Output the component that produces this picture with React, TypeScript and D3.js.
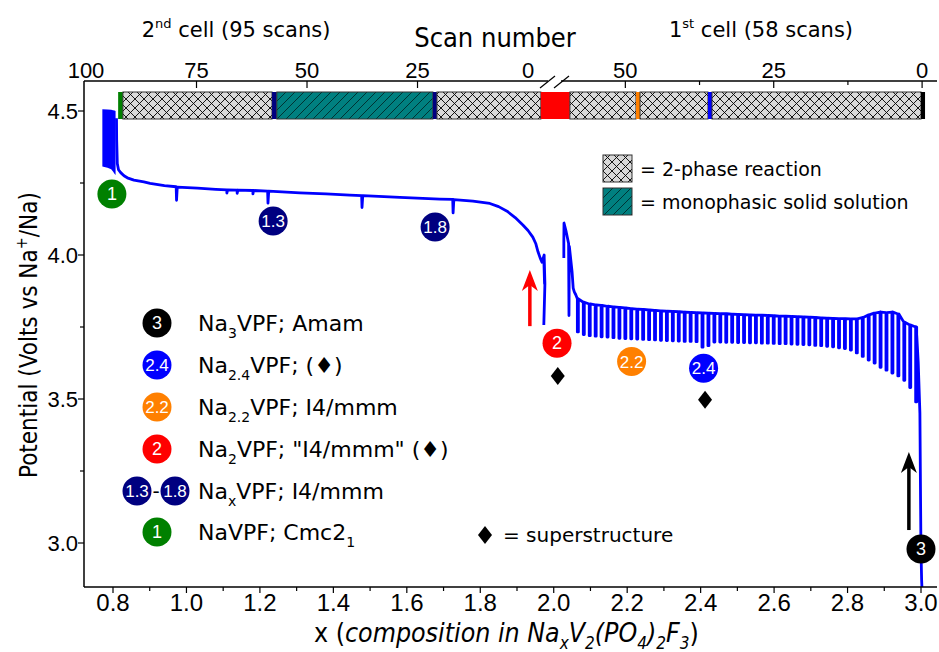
import React from 'react';
import * as d3 from 'd3';

const W = 939;
const H = 652;
const FONT = "'DejaVu Sans', 'Liberation Sans', sans-serif";
const CONDFONT = "'DejaVu Sans Condensed', 'DejaVu Sans', sans-serif";
const NUMFONT = "'Liberation Sans', 'Arimo', sans-serif";

// ---------- axes ----------
const xTicks = [0.8, 1.0, 1.2, 1.4, 1.6, 1.8, 2.0, 2.2, 2.4, 2.6, 2.8, 3.0];
const xMinorTicks = [0.9, 1.1, 1.3, 1.5, 1.7, 1.9, 2.1, 2.3, 2.5, 2.7, 2.9];
const yTicks = [3.0, 3.5, 4.0, 4.5];
const yMinorTicks = [3.25, 3.75, 4.25];
const topTicksCell2 = [100, 75, 50, 25, 0];
const topMajorCell2 = [75, 50, 25];
const topTicksCell1 = [50, 25, 0];
const topMinorCell1 = [37.5, 12.5];

// ---------- electrochemical curve ----------
// constant-voltage hold at the end of the 2nd cell: [x, top V, bottom V]
const holdEnvelope: [number, number, number][] = [
  [0.771, 4.506, 4.307],
  [0.785, 4.505, 4.303],
  [0.795, 4.504, 4.298],
  [0.800, 4.503, 4.290],
  [0.804, 4.502, 4.282],
  [0.807, 4.500, 4.278],
];

// 2nd cell (x, V) incl. relaxation spikes
const cell2Curve: [number, number][] = [
  [0.8095, 4.475], [0.8100, 4.40], [0.8117, 4.318], [0.815, 4.296], [0.821, 4.286],
  [0.830, 4.275], [0.839, 4.268], [0.857, 4.260], [0.884, 4.254], [0.901, 4.249],
  [0.940, 4.241], [0.972, 4.237], [0.973, 4.190], [0.975, 4.236], [1.030, 4.232],
  [1.080, 4.228], [1.110, 4.226], [1.110, 4.215], [1.112, 4.226], [1.138, 4.225],
  [1.138, 4.214], [1.140, 4.225], [1.181, 4.224], [1.181, 4.212], [1.183, 4.224],
  [1.221, 4.222], [1.222, 4.180], [1.224, 4.222], [1.309, 4.216], [1.380, 4.212],
  [1.445, 4.208], [1.477, 4.206], [1.478, 4.165], [1.480, 4.206], [1.581, 4.200],
  [1.690, 4.194], [1.725, 4.193], [1.726, 4.146], [1.728, 4.192], [1.780, 4.187],
  [1.826, 4.179], [1.850, 4.168], [1.873, 4.152], [1.895, 4.130], [1.916, 4.104],
  [1.930, 4.085], [1.943, 4.062], [1.951, 4.040], [1.957, 4.012], [1.963, 3.990],
  [1.968, 3.975], [1.974, 4.000], [1.975, 3.900], [1.973, 3.990], [1.975, 3.920],
  [1.974, 3.995], [1.976, 3.900], [1.973, 3.757],
];

// 1st cell: start of charge (x, V)
const cell1Start: [number, number][] = [
  [3.0025, 2.847], [3.0017, 2.872], [2.9998, 2.986], [2.997, 3.451],
  [2.9925, 3.625], [2.9885, 3.720], [2.9854, 3.751],
];
// per scan (1..58): voltage before relaxation and at the relaxation minimum
const cell1Plateau = [
  3.750, 3.757, 3.767, 3.795, 3.802, 3.800, 3.802, 3.798, 3.792, 3.783,
  3.778, 3.778, 3.779, 3.779, 3.780, 3.781, 3.782, 3.783, 3.784, 3.785,
  3.786, 3.787, 3.788, 3.788, 3.789, 3.790, 3.791, 3.791, 3.792, 3.793,
  3.794, 3.795, 3.796, 3.796, 3.797, 3.798, 3.799, 3.800, 3.801, 3.802,
  3.803, 3.804, 3.805, 3.806, 3.808, 3.809, 3.811, 3.812, 3.814, 3.816,
  3.818, 3.820, 3.822, 3.825, 3.827, 3.830, 3.836, 3.848,
];
const cell1Relaxed = [
  3.490, 3.540, 3.565, 3.580, 3.590, 3.600, 3.610, 3.625, 3.635, 3.648,
  3.660, 3.670, 3.675, 3.678, 3.681, 3.683, 3.685, 3.686, 3.688, 3.689,
  3.690, 3.691, 3.692, 3.692, 3.693, 3.694, 3.694, 3.695, 3.695, 3.696,
  3.696, 3.697, 3.697, 3.698, 3.698, 3.685, 3.680, 3.699, 3.700, 3.700,
  3.701, 3.702, 3.703, 3.704, 3.705, 3.706, 3.707, 3.708, 3.709, 3.710,
  3.711, 3.713, 3.715, 3.716, 3.718, 3.720, 3.724, 3.733,
];
// 1st cell: end of measurement (x, V)
const cell1Tail: [number, number][] = [
  [2.060, 3.862], [2.056, 3.872], [2.053, 3.885], [2.050, 3.941], [2.0425, 4.030],
  [2.0415, 3.790], [2.0405, 4.040], [2.034, 4.080], [2.028, 4.111], [2.0275, 4.050],
  [2.0275, 3.990],
];

// ---------- top bar: phase regions along x ----------
const barSegments: { from: number; to: number; kind: string }[] = [
  { from: 0.814, to: 0.827, kind: '#008000' },
  { from: 0.827, to: 1.233, kind: 'cross' },
  { from: 1.233, to: 1.246, kind: '#000080' },
  { from: 1.246, to: 1.671, kind: 'teal' },
  { from: 1.671, to: 1.682, kind: '#000080' },
  { from: 1.682, to: 1.965, kind: 'cross' },
  { from: 1.965, to: 2.044, kind: '#ff0000' },
  { from: 2.044, to: 2.224, kind: 'cross' },
  { from: 2.224, to: 2.235, kind: '#ff8000' },
  { from: 2.235, to: 2.420, kind: 'cross' },
  { from: 2.420, to: 2.431, kind: '#0000ff' },
  { from: 2.431, to: 3.000, kind: 'cross' },
  { from: 3.000, to: 3.011, kind: '#000000' },
];

// ---------- annotations ----------
const phaseMarkers = [
  { x: 0.797, v: 4.212, label: '1', color: '#008000' },
  { x: 1.236, v: 4.118, label: '1.3', color: '#000080' },
  { x: 1.677, v: 4.097, label: '1.8', color: '#000080' },
  { x: 2.009, v: 3.694, label: '2', color: '#ff0000' },
  { x: 2.212, v: 3.630, label: '2.2', color: '#ff8000' },
  { x: 2.408, v: 3.607, label: '2.4', color: '#0000ff' },
  { x: 3.000, v: 2.979, label: '3', color: '#000000' },
];
const superstructure = [
  { x: 2.011, v: 3.580 },
  { x: 2.412, v: 3.497 },
];
const arrows = [
  { x: 1.935, v0: 3.753, v1: 3.948, color: '#ff0000' },
  { x: 2.967, v0: 3.045, v1: 3.316, color: '#000000' },
];

const legendRows = [
  { circles: [{ label: '3', color: '#000000' }], parts: [['Na', ''], ['3', 'sub'], ['VPF; Amam', '']] },
  { circles: [{ label: '2.4', color: '#0000ff' }], parts: [['Na', ''], ['2.4', 'sub'], ['VPF; (\u2666)', '']] },
  { circles: [{ label: '2.2', color: '#ff8000' }], parts: [['Na', ''], ['2.2', 'sub'], ['VPF; I4/mmm', '']] },
  { circles: [{ label: '2', color: '#ff0000' }], parts: [['Na', ''], ['2', 'sub'], ['VPF; "I4/mmm" (\u2666)', '']] },
  { circles: [{ label: '1.3', color: '#000080' }, { label: '1.8', color: '#000080' }], parts: [['Na', ''], ['x', 'sub'], ['VPF; I4/mmm', '']] },
  { circles: [{ label: '1', color: '#008000' }], parts: [['NaVPF; Cmc2', ''], ['1', 'sub']] },
];

// ---------- scales ----------
const X0 = 84, X1 = 937, Y0 = 81, Y1 = 587;
const xScale = d3.scaleLinear().domain([0.8, 3.0]).range([113, 921]);
const yScale = d3.scaleLinear().domain([3.0, 4.5]).range([543, 111]);
// scan number -> composition (top axes)
const scan2 = d3.scaleLinear().domain([100, 0]).range([0.7265, 1.930]);
const scan1 = d3.scaleLinear().domain([0, 50]).range([3.003, 2.195]);
const HALF = 0.0014; // half width of a relaxation spike (in x units)

function buildCell1(): [number, number][] {
  const pts: [number, number][] = [...cell1Start];
  cell1Plateau.forEach((top, i) => {
    const c = scan1(i + 1);
    pts.push([c + HALF, top], [c + HALF, cell1Relaxed[i]], [c - HALF, cell1Relaxed[i]], [c - HALF, top]);
  });
  return pts.concat(cell1Tail);
}

const line = d3.line<[number, number]>().x(d => xScale(d[0])).y(d => yScale(d[1]));
const holdArea = d3.area<[number, number, number]>()
  .x(d => xScale(d[0])).y0(d => yScale(d[2])).y1(d => yScale(d[1]));

function Marker({ cx, cy, label, color }: { cx: number; cy: number; label: string; color: string }) {
  return (
    <g>
      <circle cx={cx} cy={cy} r={14.5} fill={color} />
      <text x={cx} y={cy + 6} textAnchor="middle" fill="#fff" fontSize={label.length > 1 ? 17 : 18} fontFamily={NUMFONT}>{label}</text>
    </g>
  );
}

function Diamond({ cx, cy, w = 14, h = 18 }: { cx: number; cy: number; w?: number; h?: number }) {
  return <path d={`M${cx},${cy - h / 2}L${cx + w / 2},${cy}L${cx},${cy + h / 2}L${cx - w / 2},${cy}Z`} fill="#000" />;
}

export default function App() {
  const cell1 = buildCell1();
  const barTop = 92, barBot = 119;
  const legendY = [323, 365, 407, 449, 491, 532];
  return (
    <svg width={W} height={H} style={{ position: 'absolute', left: 0, top: 0, background: '#fff' }} fontFamily={FONT}>
      <defs>
        <pattern id="cross" patternUnits="userSpaceOnUse" width={9} height={9}>
          <rect width={9} height={9} fill="#d9d9d9" />
          <path d="M0,0L9,9M9,0L0,9" stroke="#000" strokeWidth={0.9} />
        </pattern>
        <pattern id="teal" patternUnits="userSpaceOnUse" width={9} height={9}>
          <rect width={9} height={9} fill="#008080" />
          <path d="M0,9L9,0M-2,2L2,-2M7,11L11,7" stroke="#002a2a" strokeWidth={0.9} />
        </pattern>
      </defs>

      {/* top bar */}
      {barSegments.map((s, i) => (
        <rect key={i} x={xScale(s.from)} y={barTop} width={xScale(s.to) - xScale(s.from)} height={barBot - barTop}
          fill={s.kind === 'cross' ? 'url(#cross)' : s.kind === 'teal' ? 'url(#teal)' : s.kind}
          stroke={s.kind === 'cross' || s.kind === 'teal' ? '#333' : 'none'} strokeWidth={1} />
      ))}

      {/* curve */}
      <path d={holdArea(holdEnvelope) || ''} fill="#0000ff" />
      <path d={line(cell2Curve) || ''} fill="none" stroke="#0000ff" strokeWidth={2.8} strokeLinejoin="round" />
      <path d={line(cell1) || ''} fill="none" stroke="#0000ff" strokeWidth={2.8} strokeLinejoin="round" />

      {/* axes */}
      <line x1={X0} x2={X0} y1={Y0} y2={Y1} stroke="#000" strokeWidth={1.5} />
      <line x1={X0} x2={X1} y1={Y1} y2={Y1} stroke="#000" strokeWidth={1.5} />
      <line x1={X0} x2={548} y1={Y0} y2={Y0} stroke="#000" strokeWidth={1.5} />
      <line x1={561} x2={X1} y1={Y0} y2={Y0} stroke="#000" strokeWidth={1.5} />
      <line x1={540} y1={88} x2={555} y2={76} stroke="#000" strokeWidth={1.2} />
      <line x1={554} y1={88} x2={569} y2={76} stroke="#000" strokeWidth={1.2} />

      {xTicks.map(t => (
        <g key={t}>
          <line x1={xScale(t)} x2={xScale(t)} y1={Y1} y2={Y1 + 6} stroke="#000" strokeWidth={1.2} />
          <text x={xScale(t)} y={611} textAnchor="middle" fontSize={24} fontFamily={NUMFONT}>{t.toFixed(1)}</text>
        </g>
      ))}
      {xMinorTicks.map(t => (
        <line key={t} x1={xScale(t)} x2={xScale(t)} y1={Y1} y2={Y1 + 4} stroke="#000" strokeWidth={1.2} />
      ))}
      {yTicks.map(t => (
        <g key={t}>
          <line x1={X0 - 6} x2={X0} y1={yScale(t)} y2={yScale(t)} stroke="#000" strokeWidth={1.2} />
          <text x={X0 - 6} y={yScale(t) + 8} textAnchor="end" fontSize={22} fontFamily={NUMFONT}>{t.toFixed(1)}</text>
        </g>
      ))}
      {yMinorTicks.map(t => (
        <line key={t} x1={X0 - 4} x2={X0} y1={yScale(t)} y2={yScale(t)} stroke="#000" strokeWidth={1.2} />
      ))}

      {/* top axes (scan number) */}
      {topTicksCell2.map(t => (
        <text key={'c2' + t} x={xScale(scan2(t))} y={78} textAnchor="middle" fontSize={22} fontFamily={NUMFONT}>{t}</text>
      ))}
      {topMajorCell2.map(t => (
        <line key={'m2' + t} x1={xScale(scan2(t))} x2={xScale(scan2(t))} y1={Y0} y2={Y0 + 7} stroke="#000" strokeWidth={1.2} />
      ))}
      {topTicksCell1.map(t => (
        <g key={'c1' + t}>
          <line x1={xScale(scan1(t))} x2={xScale(scan1(t))} y1={Y0} y2={Y0 + 7} stroke="#000" strokeWidth={1.2} />
          <text x={xScale(scan1(t))} y={78} textAnchor="middle" fontSize={22} fontFamily={NUMFONT}>{t}</text>
        </g>
      ))}
      {topMinorCell1.map(t => (
        <line key={'n1' + t} x1={xScale(scan1(t))} x2={xScale(scan1(t))} y1={Y0} y2={Y0 + 4} stroke="#000" strokeWidth={1.2} />
      ))}

      <text x={495} y={47} textAnchor="middle" fontSize={27} fontFamily={CONDFONT}>Scan number</text>
      <text x={236} y={37} textAnchor="middle" fontSize={21}>
        2<tspan dy={-9} fontSize={13}>nd</tspan><tspan dy={9}> cell (95 scans)</tspan>
      </text>
      <text x={761} y={37} textAnchor="middle" fontSize={21}>
        1<tspan dy={-9} fontSize={13}>st</tspan><tspan dy={9}> cell (58 scans)</tspan>
      </text>

      {/* axis titles */}
      <text transform="translate(37,478) rotate(-90)" textAnchor="start" fontSize={24} fontFamily={CONDFONT}>
        Potential (Volts vs Na<tspan dy={-10} fontSize={16}>+</tspan><tspan dy={10}>/Na)</tspan>
      </text>
      <text x={314} y={642} textAnchor="start" fontSize={26.5} fontFamily={CONDFONT}>
        x (<tspan fontStyle="italic">composition in Na</tspan><tspan fontStyle="italic" dy={7} fontSize={17}>x</tspan><tspan fontStyle="italic" dy={-7}>V</tspan><tspan fontStyle="italic" dy={7} fontSize={17}>2</tspan><tspan fontStyle="italic" dy={-7}>(PO</tspan><tspan fontStyle="italic" dy={7} fontSize={17}>4</tspan><tspan fontStyle="italic" dy={-7}>)</tspan><tspan fontStyle="italic" dy={7} fontSize={17}>2</tspan><tspan fontStyle="italic" dy={-7}>F</tspan><tspan fontStyle="italic" dy={7} fontSize={17}>3</tspan><tspan dy={-7}>)</tspan>
      </text>

      {/* phase markers, arrows, superstructure */}
      {phaseMarkers.map((m, i) => (
        <Marker key={i} cx={xScale(m.x)} cy={yScale(m.v)} label={m.label} color={m.color} />
      ))}
      {superstructure.map((d, i) => (
        <Diamond key={i} cx={xScale(d.x)} cy={yScale(d.v)} />
      ))}
      {arrows.map((a, i) => {
        const x = xScale(a.x), yb = yScale(a.v0), yt = yScale(a.v1);
        return (
          <g key={i}>
            <line x1={x} x2={x} y1={yb} y2={yt + 14} stroke={a.color} strokeWidth={3.5} />
            <path d={`M${x},${yt}L${x + 8},${yt + 21}L${x},${yt + 15}L${x - 8},${yt + 21}Z`} fill={a.color} />
          </g>
        );
      })}

      {/* legend: phases */}
      {legendRows.map((r, i) => {
        const cy = legendY[i];
        return (
          <g key={i}>
            {r.circles.length === 1 ? (
              <Marker cx={157} cy={cy} label={r.circles[0].label} color={r.circles[0].color} />
            ) : (
              <g>
                <Marker cx={137} cy={cy} label={r.circles[0].label} color={r.circles[0].color} />
                <text x={156} y={cy + 7} textAnchor="middle" fontSize={20}>-</text>
                <Marker cx={175} cy={cy} label={r.circles[1].label} color={r.circles[1].color} />
              </g>
            )}
            <text x={198} y={cy + 8} fontSize={22}>
              {r.parts.map((p, j) => {
                const prevSub = j > 0 && r.parts[j - 1][1] === 'sub';
                if (p[1] === 'sub') return <tspan key={j} dy={7} fontSize={14}>{p[0]}</tspan>;
                return <tspan key={j} dy={prevSub ? -7 : 0}>{p[0]}</tspan>;
              })}
            </text>
          </g>
        );
      })}

      {/* legend: reaction type */}
      <rect x={603} y={155} width={29} height={27} fill="url(#cross)" stroke="#333" />
      <rect x={603} y={188} width={29} height={27} fill="url(#teal)" stroke="#333" />
      <text x={640} y={176} fontSize={19}>= 2-phase reaction</text>
      <text x={640} y={209} fontSize={19}>= monophasic solid solution</text>

      <Diamond cx={485} cy={535} />
      <text x={503} y={542} fontSize={20}>= superstructure</text>
    </svg>
  );
}
